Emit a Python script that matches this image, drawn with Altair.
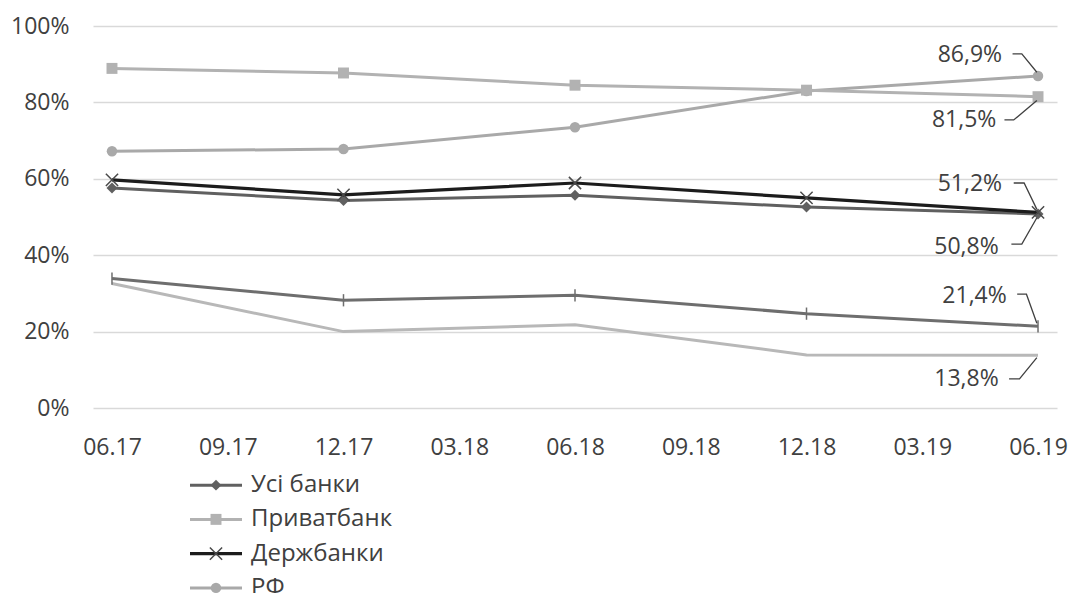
import json
import altair as alt
import pandas as pd

# ---------------- data ----------------
tick_labels = ["06.17", "09.17", "12.17", "03.18", "06.18", "09.18", "12.18", "03.19", "06.19"]
dates = ["06.17", "12.17", "06.18", "12.18", "06.19"]

series_names = ["Серія 6", "Серія 5", "РФ", "Приватбанк", "Усі банки", "Держбанки"]
usi_banky = [57.6, 54.3, 55.7, 52.6, 50.8]
pryvatbank = [88.9, 87.7, 84.5, 83.2, 81.5]
derzhbanky = [59.7, 55.8, 58.9, 55.0, 51.2]
rf = [67.2, 67.8, 73.5, 83.0, 86.9]
seriia_5 = [33.9, 28.2, 29.5, 24.7, 21.4]
seriia_6 = [32.6, 20.0, 21.8, 13.9, 13.8]

legend_names = ["Усі банки", "Приватбанк", "Держбанки", "РФ"]

values = {
    "Усі банки": usi_banky,
    "Приватбанк": pryvatbank,
    "Держбанки": derzhbanky,
    "РФ": rf,
    "Серія 5": seriia_5,
    "Серія 6": seriia_6,
}

# ---------------- styles ----------------
FONT = "Open Sans"
TXT = "#404040"
styles = {
    "Усі банки": dict(color="#606060", width=3, shape="diamond", filled=True, size=120),
    "Приватбанк": dict(color="#b2b2b2", width=3, shape="square", filled=True, size=120),
    "Держбанки": dict(color="#1c1c1c", mcolor="#4a4a4a", width=3.2, shape="M-1,-1L1,1M-1,1L1,-1",
                      filled=False, size=150),
    "РФ": dict(color="#a9a9a9", width=3, shape="circle", filled=True, size=110),
    "Серія 5": dict(color="#6e6e6e", width=3, shape="M0,-1L0,1", filled=False, size=150),
    "Серія 6": dict(color="#b8b8b8", width=3, shape=None, filled=False, size=0),
}

# annotation layout (quarter index / percent units), text right edge and leader bend
ann_layout = {
    "РФ": dict(tx=7.69, tv=92.4, ly=92.7, lx=(7.78, 7.86), end=1.0),
    "Приватбанк": dict(tx=7.64, tv=75.4, ly=75.4, lx=(7.71, 7.79), end=-1.0),
    "Держбанки": dict(tx=7.69, tv=58.6, ly=58.9, lx=(7.79, 7.88), end=0.8),
    "Усі банки": dict(tx=7.66, tv=42.1, ly=42.9, lx=(7.77, 7.86), end=-1.0),
    "Серія 5": dict(tx=7.73, tv=29.3, ly=29.8, lx=(7.82, 7.90), end=0.8),
    "Серія 6": dict(tx=7.66, tv=7.6, ly=7.6, lx=(7.75, 7.84), end=-0.6),
}

rows = []
for name in series_names:
    for d, v in zip(dates, values[name]):
        rows.append({"series": name, "q": tick_labels.index(d), "v": v})
df = pd.DataFrame(rows)

ann_rows, lead_rows = [], []
for name, lay in ann_layout.items():
    last = values[name][-1]
    label = f"{last:.1f}%".replace(".", ",")
    ann_rows.append({"series": name, "q": lay["tx"], "v": lay["tv"], "label": label})
    pts = [(lay["lx"][0], lay["ly"]), (lay["lx"][1], lay["ly"]), (7.99, last + lay["end"])]
    for i, (x, y) in enumerate(pts):
        lead_rows.append({"series": name, "i": i, "q": x, "v": y})
ann_df = pd.DataFrame(ann_rows)
lead_df = pd.DataFrame(lead_rows)

label_expr = json.dumps(tick_labels) + "[datum.value]"

xscale = alt.Scale(domain=[-0.164, 8.164], nice=False, zero=False)
yscale = alt.Scale(domain=[0, 100], nice=False)

X = alt.X("q:Q", scale=xscale, axis=alt.Axis(
    values=list(range(len(tick_labels))), labelExpr=label_expr, title=None,
    grid=False, ticks=False, domain=False, labelPadding=28,
    labelFont=FONT, labelFontSize=23, labelColor=TXT))
Y = alt.Y("v:Q", scale=yscale, axis=alt.Axis(
    values=[0, 20, 40, 60, 80, 100], labelExpr="datum.value + '%'", title=None,
    grid=True, gridColor="#d9d9d9", gridWidth=1.5, ticks=False, domain=False,
    labelPadding=24, labelFont=FONT, labelFontSize=23, labelColor=TXT))


def point_mark(chart, st):
    col = st.get("mcolor", st["color"])
    if st["filled"]:
        return chart.mark_point(shape=st["shape"], filled=True, color=col, size=st["size"], opacity=1)
    return chart.mark_point(shape=st["shape"], filled=False, color=col, size=st["size"],
                            strokeWidth=1.5, opacity=1)


base = alt.Chart(df)
layers = []
for i, name in enumerate(series_names):
    st = styles[name]
    sub = base.transform_filter(alt.datum.series == name)
    enc_x = X if i == 0 else alt.X("q:Q", scale=xscale)
    enc_y = Y if i == 0 else alt.Y("v:Q", scale=yscale)
    layers.append(sub.mark_line(color=st["color"], strokeWidth=st["width"]).encode(x=enc_x, y=enc_y))
    if st["shape"]:
        layers.append(point_mark(sub, st).encode(x=alt.X("q:Q", scale=xscale),
                                                 y=alt.Y("v:Q", scale=yscale)))

leaders = alt.Chart(lead_df).mark_line(color=TXT, strokeWidth=1.3).encode(
    x=alt.X("q:Q", scale=xscale), y=alt.Y("v:Q", scale=yscale), detail="series:N", order="i:Q")
texts = alt.Chart(ann_df).mark_text(align="right", baseline="middle", font=FONT, fontSize=23,
                                    color=TXT).encode(
    x=alt.X("q:Q", scale=xscale), y=alt.Y("v:Q", scale=yscale), text="label:N")

main = alt.layer(*layers, leaders, texts).properties(width=964, height=382)

# ---------------- legend panel ----------------
leg_df = pd.DataFrame({"series": legend_names})
LY = alt.Y("series:N", scale=alt.Scale(domain=legend_names, type="point", padding=0.5), axis=None)
leg_layers = []
for name in legend_names:
    st = styles[name]
    sub = alt.Chart(leg_df).transform_filter(alt.datum.series == name)
    leg_layers.append(sub.mark_rule(color=st["color"], strokeWidth=st["width"]).encode(
        x=alt.value(97), x2=alt.value(149), y=LY))
    leg_layers.append(point_mark(sub, st).encode(x=alt.value(123), y=LY))
leg_text = alt.Chart(leg_df).mark_text(align="left", baseline="middle", font=FONT, fontSize=24,
                                       color=TXT).encode(x=alt.value(158), y=LY, text="series:N")
legend = alt.layer(*leg_layers, leg_text).properties(width=400, height=137)

chart = alt.vconcat(main, legend, spacing=9).properties(
    padding={"left": 2, "top": 7, "right": 0, "bottom": 0}
).configure(background="white").configure_view(stroke=None)

chart.save("out.html", embed_options={"renderer": "svg", "actions": False})
